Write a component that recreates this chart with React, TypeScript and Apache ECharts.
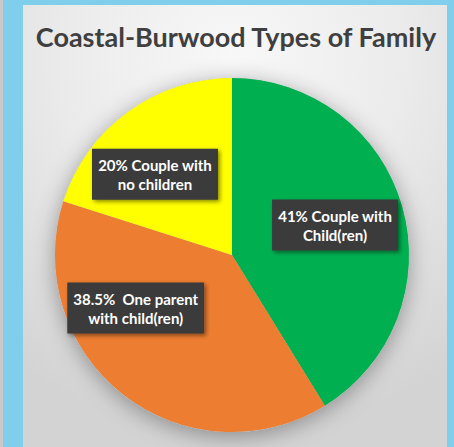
import React, { useEffect, useRef } from "react";
import * as echarts from "echarts";

const title = "Coastal-Burwood Types of Family";
const categories = ["Couple with Child(ren)", "One parent with child(ren)", "Couple with no children"];
const values = [41, 38.5, 20];
const labelLines = [
  ["41% Couple with", "Child(ren)"],
  ["38.5%  One parent", "with child(ren)"],
  ["20% Couple with", "no children"],
];
const colors = ["#00b050", "#ed7d31", "#ffff00"];

const CENTER: [number, number] = [232, 255];
const RADIUS = 177;
const labelShift = [
  [15, -5],
  [-40, -19],
  [-23, -7],
];

export default function App() {
  const ref = useRef<HTMLDivElement>(null);
  useEffect(() => {
    if (!ref.current) return;
    const chart = echarts.init(ref.current, null, { renderer: "svg" });
    chart.setOption({
      animation: false,
      backgroundColor: "transparent",
      title: {
        text: title,
        left: 231,
        top: 18,
        textAlign: "center",
        textStyle: {
          fontFamily: "Lato",
          fontWeight: "bold",
          fontSize: 27,
          color: "#3f3f3f",
        },
      },
      series: [
        {
          type: "pie",
          silent: true,
          center: CENTER,
          radius: RADIUS,
          z: 1,
          label: { show: false },
          labelLine: { show: false },
          itemStyle: {
            color: "#bdbdbd",
            shadowBlur: 22,
            shadowColor: "rgba(0,0,0,0.35)",
            shadowOffsetX: 0,
            shadowOffsetY: 4,
          },
          data: [{ value: 1, name: "" }],
        },
        {
          type: "pie",
          center: CENTER,
          radius: RADIUS,
          startAngle: 90,
          clockwise: true,
          z: 2,
          itemStyle: { borderWidth: 0 },
          data: categories.map((c, i) => ({
            name: c,
            value: values[i],
            itemStyle: { color: colors[i] },
          })),
          label: {
            show: true,
            position: "inside",
            formatter: (p: any) => labelLines[p.dataIndex].join("\n"),
            color: "#ffffff",
            fontFamily: "Lato",
            fontWeight: "bold",
            fontSize: 15,
            lineHeight: 19,
            align: "center",
            backgroundColor: "#3b3b3b",
            padding: [7, 6, 6, 6],
            shadowBlur: 4,
            shadowColor: "rgba(0,0,0,0.45)",
            shadowOffsetX: 2,
            shadowOffsetY: 2,
          },
          labelLine: { show: false },
          labelLayout: (p: any) => ({
            dx: labelShift[p.dataIndex][0],
            dy: labelShift[p.dataIndex][1],
          }),
        },
      ],
    });
    return () => chart.dispose();
  }, []);

  return (
    <div
      style={{
        position: "fixed",
        left: 0,
        top: 0,
        width: 454,
        height: 447,
        overflow: "hidden",
        background: "linear-gradient(to right, #c9c9c9 0px, #c9c9c9 3px, #7fcfec 3px, #7fcfec 100%)",
      }}
    >
      <div
        style={{
          position: "absolute",
          left: 23,
          top: 5,
          width: 424,
          height: 442,
          background:
            "radial-gradient(ellipse 90% 85% at 50% 12%, #f8f8f8 0%, #ebebeb 45%, #d3d3d3 100%)",
        }}
      />
      <div ref={ref} style={{ position: "absolute", left: 0, top: 0, width: 454, height: 447 }} />
    </div>
  );
}
